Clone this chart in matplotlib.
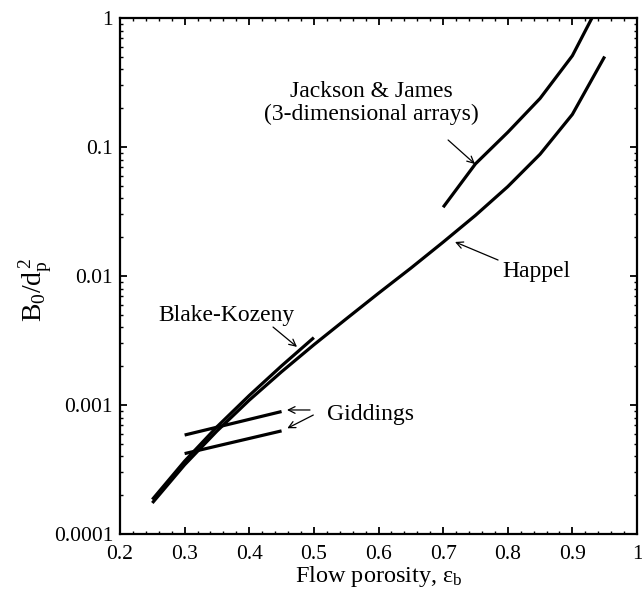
import matplotlib
matplotlib.use("Agg")
import matplotlib.pyplot as plt
from matplotlib.ticker import FixedLocator, MultipleLocator, LogLocator, NullFormatter

plt.rcParams['font.family'] = ['Liberation Serif', 'DejaVu Serif']
plt.rcParams['mathtext.fontset'] = 'custom'
plt.rcParams['mathtext.rm'] = 'Liberation Serif'
plt.rcParams['mathtext.it'] = 'Liberation Serif:italic'

# Permeability models, B0/dp^2 versus flow porosity
happel_eps = [0.25, 0.30, 0.35, 0.40, 0.45, 0.50, 0.55, 0.60, 0.65, 0.70, 0.75, 0.80, 0.85, 0.90, 0.95]
happel_b = [1.74e-4, 3.44e-4, 6.28e-4, 1.09e-3, 1.81e-3, 2.93e-3, 4.65e-3, 7.35e-3,
            1.15e-2, 1.83e-2, 2.95e-2, 4.93e-2, 8.79e-2, 0.179, 0.503]

bk_eps = [0.25, 0.30, 0.35, 0.40, 0.45, 0.50]
bk_b = [1.85e-4, 3.67e-4, 6.77e-4, 1.185e-3, 2.01e-3, 3.33e-3]

jj_eps = [0.70, 0.75, 0.80, 0.85, 0.90, 0.95]
jj_b = [0.0341, 0.074, 0.13, 0.238, 0.51, 1.55]

gid_upper_eps = [0.30, 0.45]
gid_upper_b = [5.85e-4, 8.9e-4]
gid_lower_eps = [0.30, 0.45]
gid_lower_b = [4.2e-4, 6.3e-4]

x_ticks = [0.2, 0.3, 0.4, 0.5, 0.6, 0.7, 0.8, 0.9, 1.0]
x_tick_labels = ['0.2', '0.3', '0.4', '0.5', '0.6', '0.7', '0.8', '0.9', '1']
y_ticks = [1e-4, 1e-3, 1e-2, 1e-1, 1.0]
y_tick_labels = ['0.0001', '0.001', '0.01', '0.1', '1']

fig = plt.figure(figsize=(6.42, 6.11), dpi=100)
ax = fig.add_axes([120 / 642, 1 - 534 / 611, 517 / 642, 516 / 611])

lw = 2.3
for xs, ys in [(happel_eps, happel_b), (bk_eps, bk_b), (jj_eps, jj_b),
               (gid_upper_eps, gid_upper_b), (gid_lower_eps, gid_lower_b)]:
    ax.plot(xs, ys, color='black', lw=lw, solid_capstyle='butt', solid_joinstyle='miter')

ax.set_yscale('log')
ax.set_xlim(0.2, 1.0)
ax.set_ylim(1e-4, 1.0)

ax.xaxis.set_major_locator(FixedLocator(x_ticks))
ax.set_xticklabels(x_tick_labels)
ax.xaxis.set_minor_locator(MultipleLocator(0.02))
ax.yaxis.set_major_locator(FixedLocator(y_ticks))
ax.set_yticklabels(y_tick_labels)
ax.yaxis.set_minor_locator(LogLocator(base=10, subs=range(2, 10)))
ax.yaxis.set_minor_formatter(NullFormatter())

ax.tick_params(which='both', direction='in', top=True, right=True, labelsize=15.5)
ax.tick_params(which='major', length=5, width=1.3)
ax.tick_params(which='minor', length=2.5, width=1.0)
ax.tick_params(axis='x', which='major', pad=8)
ax.tick_params(axis='y', which='major', pad=5)
for s in ax.spines.values():
    s.set_linewidth(1.6)

ax.set_xlabel('Flow porosity, ε$_\\mathrm{b}$', fontsize=17.5, labelpad=0)
fig.text(36 / 642, 1 - 290 / 611, '$\\mathrm{B_0/d_p^{\\,2}}$', fontsize=20,
         rotation=90, ha='center', va='center')

fs = 17
arrow = dict(arrowstyle='->', color='black', lw=0.9, shrinkA=0, shrinkB=0,
             mutation_scale=12)

ax.text(0.5893, 0.244, 'Jackson & James', fontsize=fs, ha='center', va='baseline')
ax.text(0.5893, 0.1619, '(3-dimensional arrays)', fontsize=fs, ha='center', va='baseline')
ax.annotate('', xy=(0.7493, 0.0738), xytext=(0.7077, 0.1133), arrowprops=arrow)

ax.text(0.7911, 0.00982, 'Happel', fontsize=fs, ha='left', va='baseline')
ax.annotate('', xy=(0.7184, 0.01836), xytext=(0.785, 0.0133), arrowprops=arrow)

ax.text(0.2588, 0.00448, 'Blake-Kozeny', fontsize=fs, ha='left', va='baseline')
ax.annotate('', xy=(0.4739, 0.00282), xytext=(0.4368, 0.00402), arrowprops=arrow)

ax.text(0.5203, 7.65e-4, 'Giddings', fontsize=fs, ha='left', va='baseline')
ax.annotate('', xy=(0.4584, 9.15e-4), xytext=(0.494, 9.15e-4), arrowprops=arrow)
ax.annotate('', xy=(0.4589, 6.6e-4), xytext=(0.4991, 8.36e-4), arrowprops=arrow)

fig.savefig('out.png', dpi=100)
